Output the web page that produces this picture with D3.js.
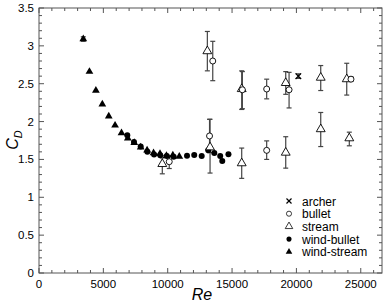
<!DOCTYPE html>
<html>
<head>
<meta charset="utf-8">
<script src="https://cdn.jsdelivr.net/npm/d3@7"></script>
<style>
  body { margin: 0; background: #fff; }
  text { font-family: "Liberation Sans", Arial, sans-serif; }
</style>
</head>
<body>
<svg class="chart"></svg>
<script>
// data: [Re, CD, low, high]
var windStream = [
  [3440, 3.09, 3.06, 3.12], [3920, 2.66], [4420, 2.41], [4920, 2.23], [5420, 2.07],
  [5910, 1.95], [6410, 1.85], [6900, 1.78], [7400, 1.72], [7900, 1.66],
  [8400, 1.62], [8900, 1.585], [9400, 1.575], [9900, 1.55], [10400, 1.555], [10900, 1.54]
];
var windBullet = [
  [6860, 1.82], [7380, 1.73], [7900, 1.67], [8420, 1.60], [8940, 1.565], [9420, 1.555],
  [9930, 1.545], [10460, 1.535], [11500, 1.55], [12060, 1.56], [12640, 1.545],
  [13150, 1.62], [13620, 1.585], [14080, 1.545], [14240, 1.48], [14720, 1.57]
];
var stream = [
  [9580, 1.44, 1.31, 1.52], [13080, 2.93, 2.67, 3.19], [13290, 1.66, 1.32, 2.03],
  [15750, 2.43, 2.16, 2.67], [15750, 1.45, 1.25, 1.65], [19170, 2.51, 2.36, 2.66],
  [19170, 1.59, 1.385, 1.80], [21890, 2.58, 2.41, 2.74], [21890, 1.90, 1.67, 2.12],
  [23910, 2.56, 2.35, 2.77], [24110, 1.78, 1.68, 1.86]
];
var bullet = [
  [10120, 1.47, 1.38, 1.55], [13500, 2.80, 2.54, 3.06], [13250, 1.81, 1.59, 2.03],
  [15800, 2.42, 2.17, 2.66], [17690, 2.43, 2.30, 2.56], [17690, 1.62, 1.50, 1.745],
  [19430, 2.42, 2.18, 2.65], [24240, 2.56, 2.53, 2.59]
];
var archer = [[20150, 2.60, 2.57, 2.63]];

var xTicks = [0, 5000, 10000, 15000, 20000, 25000];
var yTicks = [0, 0.5, 1, 1.5, 2, 2.5, 3, 3.5];
var legendNames = ["archer", "bullet", "stream", "wind-bullet", "wind-stream"];

(function show() {
  'use strict';

  var margin = {top: 8, bottom: 31, right: 6, left: 39},
      width = 388 - margin.left - margin.right,
      height = 304 - margin.top - margin.bottom;

  var svg = d3.select(".chart")
      .attr("width", 388)
      .attr("height", 304);
  var chart = svg.append("g")
      .attr("transform", "translate(" + margin.left + "," + margin.top + ")");

  var scaleX = d3.scaleLinear().domain([0, 26650]).range([0, width]);
  var scaleY = d3.scaleLinear().domain([0, 3.5]).range([height, 0]);

  var axisColor = "#555";

  // frame
  chart.append("rect")
      .attr("width", width).attr("height", height)
      .attr("fill", "none").attr("stroke", axisColor).attr("stroke-width", 1);

  // ticks (inward, all four sides)
  var ticks = chart.append("g").attr("stroke", axisColor).attr("stroke-width", 1);
  d3.range(0, 26001, 1000).forEach(function(v) {
    var len = v % 5000 === 0 ? 5 : 3, x = scaleX(v);
    ticks.append("line").attr("x1", x).attr("x2", x).attr("y1", height).attr("y2", height - len);
    ticks.append("line").attr("x1", x).attr("x2", x).attr("y1", 0).attr("y2", len);
  });
  d3.range(0, 36).forEach(function(i) {
    var v = i / 10, len = i % 5 === 0 ? 5 : 3, y = scaleY(v);
    ticks.append("line").attr("x1", 0).attr("x2", len).attr("y1", y).attr("y2", y);
    ticks.append("line").attr("x1", width).attr("x2", width - len).attr("y1", y).attr("y2", y);
  });

  chart.append("g").selectAll("text").data(xTicks).enter().append("text")
      .attr("x", function(d) { return scaleX(d); })
      .attr("y", height + 15)
      .attr("text-anchor", "middle")
      .attr("font-size", 11.5)
      .text(function(d) { return d; });

  chart.append("g").selectAll("text").data(yTicks).enter().append("text")
      .attr("x", -5)
      .attr("y", function(d) { return scaleY(d) + 4; })
      .attr("text-anchor", "end")
      .attr("font-size", 11.5)
      .text(function(d) { return d; });

  // axis titles
  svg.append("text")
      .attr("x", 202).attr("y", 300)
      .attr("text-anchor", "middle")
      .attr("font-family", "Liberation Serif, serif")
      .attr("font-style", "italic")
      .attr("font-size", 16)
      .text("Re");

  var cd = svg.append("text")
      .attr("transform", "translate(18,140) rotate(-90)")
      .attr("text-anchor", "middle")
      .attr("font-family", "Liberation Serif, serif")
      .attr("font-style", "italic")
      .attr("font-size", 16)
      .text("C");
  cd.append("tspan").attr("font-size", 11).attr("dy", 4).text("D");

  // error bars
  var errColor = "#444";
  var withErr = [].concat(windStream, stream, bullet, archer).filter(function(d) { return d.length > 2; });
  var eb = chart.append("g").attr("stroke", errColor).attr("stroke-width", 1.2);
  withErr.forEach(function(d) {
    var x = scaleX(d[0]);
    eb.append("line").attr("x1", x).attr("x2", x).attr("y1", scaleY(d[2])).attr("y2", scaleY(d[3]));
    eb.append("line").attr("x1", x - 2.5).attr("x2", x + 2.5).attr("y1", scaleY(d[2])).attr("y2", scaleY(d[2]));
    eb.append("line").attr("x1", x - 2.5).attr("x2", x + 2.5).attr("y1", scaleY(d[3])).attr("y2", scaleY(d[3]));
  });

  var triFilled = d3.symbol().type(d3.symbolTriangle).size(26)();
  var triOpen = d3.symbol().type(d3.symbolTriangle).size(34)();
  var cross = d3.symbol().type(d3.symbolX).size(22)();

  function marks(data, draw) {
    chart.append("g").selectAll("g").data(data).enter().append("g")
        .attr("transform", function(d) { return "translate(" + scaleX(d[0]) + "," + scaleY(d[1]) + ")"; })
        .each(function() { draw(d3.select(this)); });
  }

  function drawArcher(g) { g.append("path").attr("d", cross).attr("fill", "none").attr("stroke", "#000").attr("stroke-width", 1.3); }
  function drawBullet(g) { g.append("circle").attr("r", 3).attr("fill", "#fff").attr("stroke", "#000").attr("stroke-width", 0.9); }
  function drawStream(g) { g.append("path").attr("d", triOpen).attr("fill", "#fff").attr("stroke", "#000").attr("stroke-width", 0.9); }
  function drawWindBullet(g) { g.append("circle").attr("r", 3).attr("fill", "#000"); }
  function drawWindStream(g) { g.append("path").attr("d", triFilled).attr("fill", "#000"); }

  marks(windBullet, drawWindBullet);
  marks(windStream, drawWindStream);
  marks(stream, drawStream);
  marks(bullet, drawBullet);
  marks(archer, drawArcher);

  // legend
  var drawers = [drawArcher, drawBullet, drawStream, drawWindBullet, drawWindStream];
  var legend = svg.append("g").attr("transform", "translate(289,201)");
  legendNames.forEach(function(name, i) {
    var row = legend.append("g").attr("transform", "translate(0," + (i * 12.7) + ")");
    drawers[i](row.append("g").attr("transform", i === 0 ? "scale(0.9)" : "scale(0.85)"));
    row.append("text").attr("x", 13).attr("y", 4.5).attr("font-size", 12).text(name);
  });
})();
</script>
</body>
</html>
